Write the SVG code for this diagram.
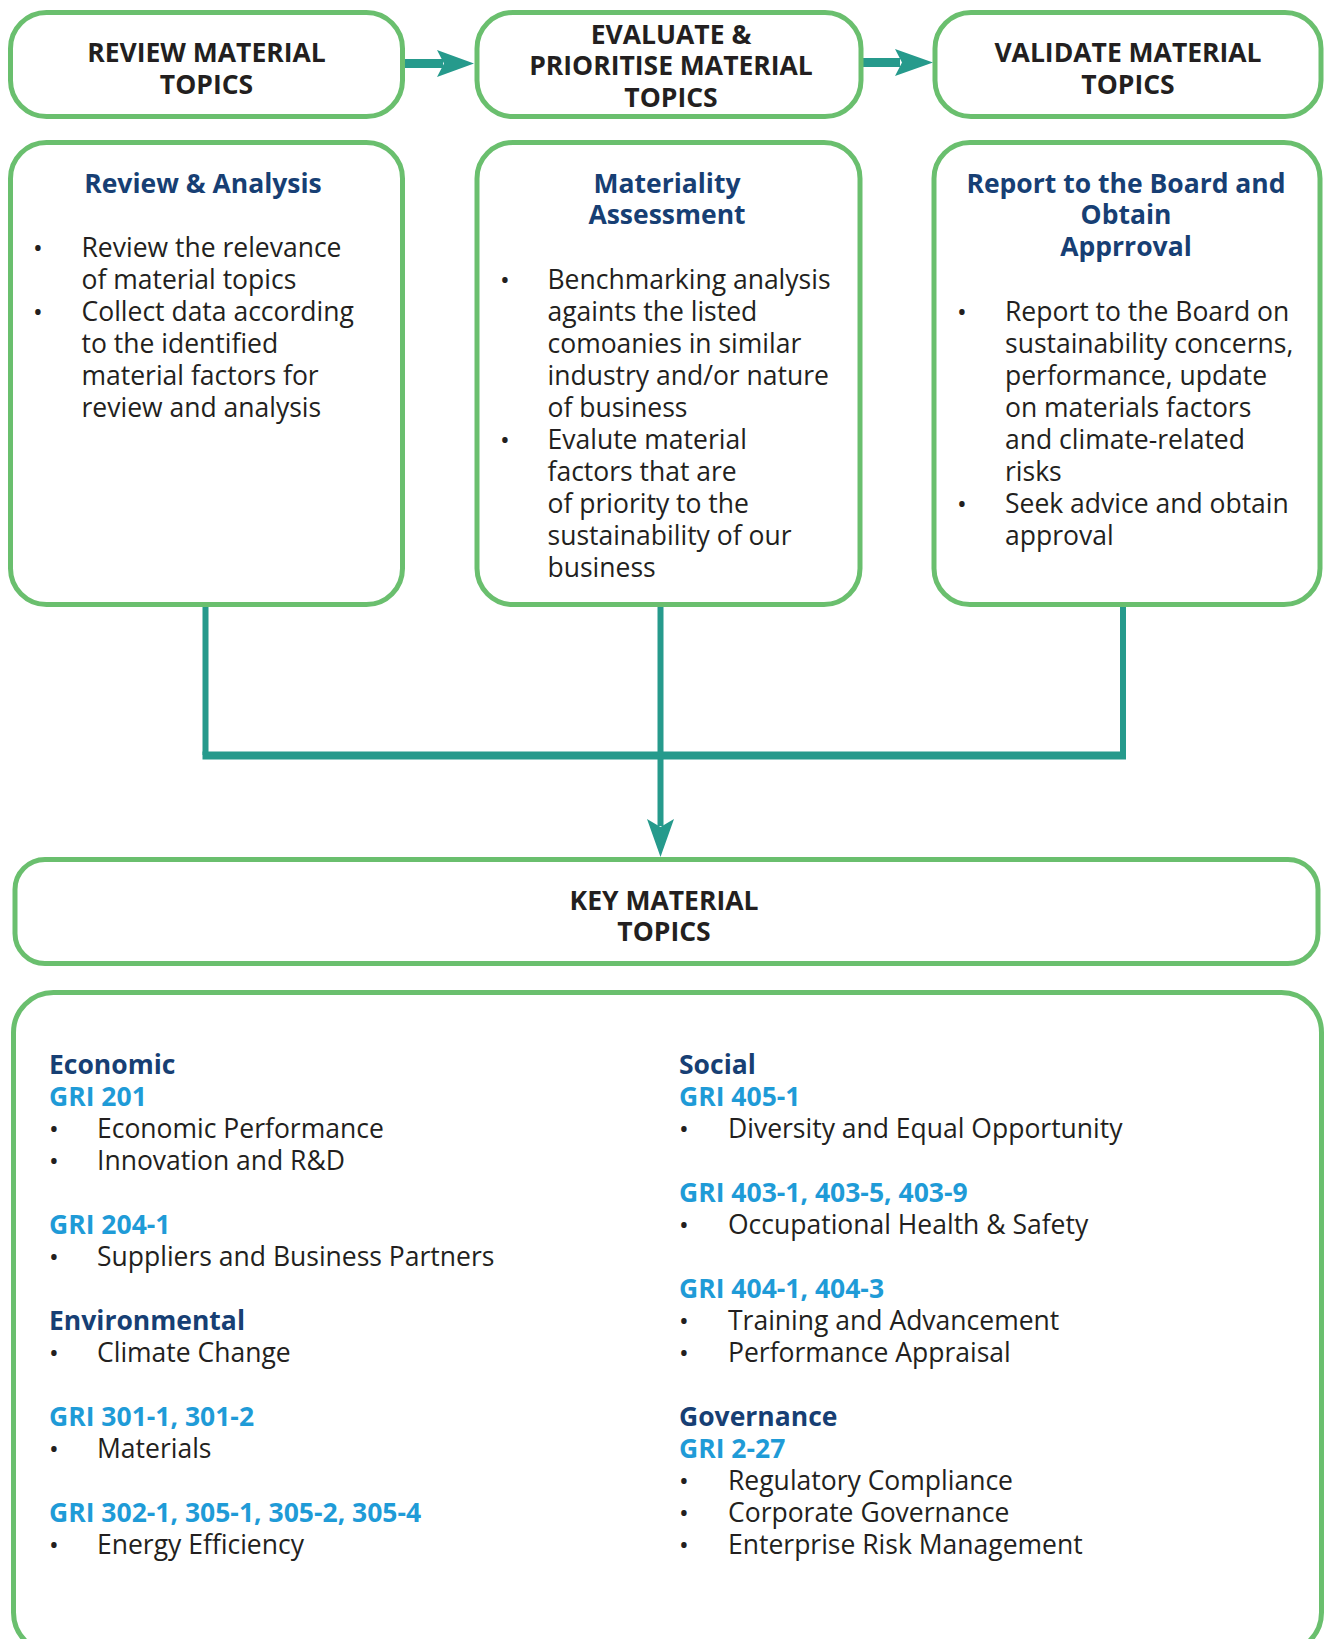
<svg xmlns="http://www.w3.org/2000/svg" width="1327" height="1639" viewBox="0 0 1327 1639">
<style>
.box{fill:#fff;stroke:#6abf6e;stroke-width:5}
.ttl{font-family:"Open Sans","Noto Sans",sans-serif;font-weight:700;font-size:26.5px;fill:#231f20;text-anchor:middle}
.hd{font-family:"Open Sans","Noto Sans",sans-serif;font-weight:700;font-size:26.5px;fill:#173f74}
.hdc{text-anchor:middle}
.gri{font-family:"Open Sans","Noto Sans",sans-serif;font-weight:700;font-size:26.5px;fill:#1f9bd7}
.tx{font-family:"Open Sans","Noto Sans",sans-serif;font-size:26.5px;fill:#231f20}
.bl{font-family:"Open Sans","Noto Sans",sans-serif;font-size:26px;fill:#231f20;text-anchor:middle}
.con{fill:none;stroke:#269a8c}
.hdw{fill:#269a8c}
</style>
<rect width="1327" height="1639" fill="#fff"/>

<g id="connectors">
  <rect class="hdw" x="403" y="59" width="40" height="9"/>
  <path class="hdw" d="M437,50 L474,63.5 L437,77 L444,63.5 Z"/>
  <rect class="hdw" x="860" y="58" width="40" height="9"/>
  <path class="hdw" d="M895,49 L933,62.5 L895,76 L902,62.5 Z"/>
  <path class="con" stroke-width="6" d="M205.5,606 V755 M1123,606 V755"/>
  <path class="con" stroke-width="8" d="M202.5,755.5 H1126"/>
  <path class="con" stroke-width="6" d="M660.5,606 V826"/>
  <path class="hdw" d="M647,819 L660.5,827 L674,819 L660.5,857 Z"/>
</g>

<g id="review-material-topics">
  <rect class="box" x="10.5" y="12.5" width="392" height="104" rx="36"/>
  <text class="ttl" x="206.5" y="61.5">REVIEW MATERIAL</text>
  <text class="ttl" x="206.5" y="94">TOPICS</text>
</g>
<g id="evaluate-prioritise">
  <rect class="box" x="477" y="12.5" width="384" height="104" rx="36"/>
  <text class="ttl" x="671" y="43.5">EVALUATE &amp;</text>
  <text class="ttl" x="671" y="75">PRIORITISE MATERIAL</text>
  <text class="ttl" x="671" y="106.5">TOPICS</text>
</g>
<g id="validate-material-topics">
  <rect class="box" x="935" y="12.5" width="386" height="104" rx="36"/>
  <text class="ttl" x="1128" y="61.5">VALIDATE MATERIAL</text>
  <text class="ttl" x="1128" y="94">TOPICS</text>
</g>

<g id="review-analysis">
  <rect class="box" x="10.5" y="142.5" width="392" height="462" rx="36"/>
  <text class="hd hdc" x="203" y="192.5">Review &amp; Analysis</text>
  <text class="bl" x="38" y="256.5">•</text>
  <text class="tx" x="81.5" y="256.5">Review the relevance</text>
  <text class="tx" x="81.5" y="288.5">of material topics</text>
  <text class="bl" x="38" y="320.5">•</text>
  <text class="tx" x="81.5" y="320.5">Collect data according</text>
  <text class="tx" x="81.5" y="352.5">to the identified</text>
  <text class="tx" x="81.5" y="384.5">material factors for</text>
  <text class="tx" x="81.5" y="416.5">review and analysis</text>
</g>

<g id="materiality-assessment">
  <rect class="box" x="477" y="142.5" width="383" height="462" rx="36"/>
  <text class="hd hdc" x="667" y="192.5">Materiality</text>
  <text class="hd hdc" x="667" y="224">Assessment</text>
  <text class="bl" x="505" y="288.5">•</text>
  <text class="tx" x="547.5" y="288.5">Benchmarking analysis</text>
  <text class="tx" x="547.5" y="320.5">againts the listed</text>
  <text class="tx" x="547.5" y="352.5">comoanies in similar</text>
  <text class="tx" x="547.5" y="384.5">industry and/or nature</text>
  <text class="tx" x="547.5" y="416.5">of business</text>
  <text class="bl" x="505" y="448.5">•</text>
  <text class="tx" x="547.5" y="448.5">Evalute material</text>
  <text class="tx" x="547.5" y="480.5">factors that are</text>
  <text class="tx" x="547.5" y="512.5">of priority to the</text>
  <text class="tx" x="547.5" y="544.5">sustainability of our</text>
  <text class="tx" x="547.5" y="576.5">business</text>
</g>

<g id="report-board">
  <rect class="box" x="934" y="142.5" width="386" height="462" rx="36"/>
  <text class="hd hdc" x="1126" y="192.5">Report to the Board and</text>
  <text class="hd hdc" x="1126" y="224">Obtain</text>
  <text class="hd hdc" x="1126" y="256">Apprroval</text>
  <text class="bl" x="962" y="320.5">•</text>
  <text class="tx" x="1005" y="320.5">Report to the Board on</text>
  <text class="tx" x="1005" y="352.5">sustainability concerns,</text>
  <text class="tx" x="1005" y="384.5">performance, update</text>
  <text class="tx" x="1005" y="416.5">on materials factors</text>
  <text class="tx" x="1005" y="448.5">and climate-related</text>
  <text class="tx" x="1005" y="480.5">risks</text>
  <text class="bl" x="962" y="512.5">•</text>
  <text class="tx" x="1005" y="512.5">Seek advice and obtain</text>
  <text class="tx" x="1005" y="544.5">approval</text>
</g>

<g id="key-material-topics">
  <rect class="box" x="15" y="859.5" width="1303" height="104" rx="30"/>
  <text class="ttl" x="664" y="909.5">KEY MATERIAL</text>
  <text class="ttl" x="664" y="941">TOPICS</text>
</g>

<g id="topics-list">
  <rect class="box" x="13.5" y="992.5" width="1308" height="660" rx="40"/>
  <text class="hd" x="49" y="1073.5">Economic</text>
  <text class="gri" x="49" y="1105.5">GRI 201</text>
  <text class="bl" x="54" y="1137.5">•</text>
  <text class="tx" x="97" y="1137.5">Economic Performance</text>
  <text class="bl" x="54" y="1169.5">•</text>
  <text class="tx" x="97" y="1169.5">Innovation and R&amp;D</text>
  <text class="gri" x="49" y="1233.5">GRI 204-1</text>
  <text class="bl" x="54" y="1265.5">•</text>
  <text class="tx" x="97" y="1265.5">Suppliers and Business Partners</text>
  <text class="hd" x="49" y="1329.5">Environmental</text>
  <text class="bl" x="54" y="1361.5">•</text>
  <text class="tx" x="97" y="1361.5">Climate Change</text>
  <text class="gri" x="49" y="1425.5">GRI 301-1, 301-2</text>
  <text class="bl" x="54" y="1457.5">•</text>
  <text class="tx" x="97" y="1457.5">Materials</text>
  <text class="gri" x="49" y="1521.5">GRI 302-1, 305-1, 305-2, 305-4</text>
  <text class="bl" x="54" y="1553.5">•</text>
  <text class="tx" x="97" y="1553.5">Energy Efficiency</text>

  <text class="hd" x="679" y="1073.5">Social</text>
  <text class="gri" x="679" y="1105.5">GRI 405-1</text>
  <text class="bl" x="684" y="1137.5">•</text>
  <text class="tx" x="728" y="1137.5">Diversity and Equal Opportunity</text>
  <text class="gri" x="679" y="1201.5">GRI 403-1, 403-5, 403-9</text>
  <text class="bl" x="684" y="1233.5">•</text>
  <text class="tx" x="728" y="1233.5">Occupational Health &amp; Safety</text>
  <text class="gri" x="679" y="1297.5">GRI 404-1, 404-3</text>
  <text class="bl" x="684" y="1329.5">•</text>
  <text class="tx" x="728" y="1329.5">Training and Advancement</text>
  <text class="bl" x="684" y="1361.5">•</text>
  <text class="tx" x="728" y="1361.5">Performance Appraisal</text>
  <text class="hd" x="679" y="1425.5">Governance</text>
  <text class="gri" x="679" y="1457.5">GRI 2-27</text>
  <text class="bl" x="684" y="1489.5">•</text>
  <text class="tx" x="728" y="1489.5">Regulatory Compliance</text>
  <text class="bl" x="684" y="1521.5">•</text>
  <text class="tx" x="728" y="1521.5">Corporate Governance</text>
  <text class="bl" x="684" y="1553.5">•</text>
  <text class="tx" x="728" y="1553.5">Enterprise Risk Management</text>
</g>
</svg>
